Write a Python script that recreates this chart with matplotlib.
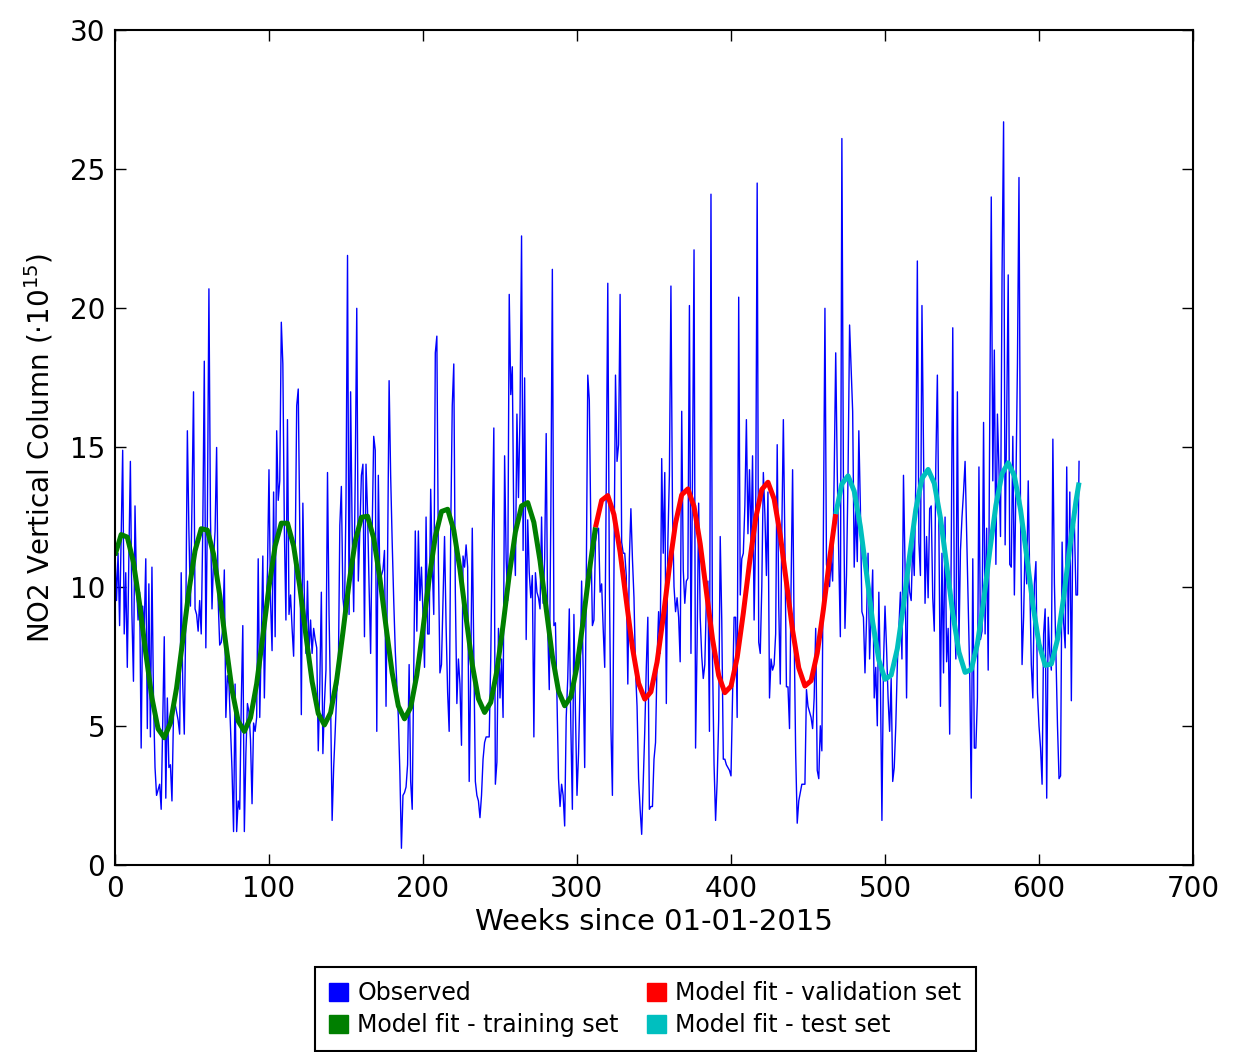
import numpy as np
import matplotlib
matplotlib.use("Agg")
import matplotlib.pyplot as plt
from matplotlib.patches import Patch

# weekly NO2 column values (week 0 .. 626)
observed = [
    11.3, 9.5, 11.2, 8.6, 11.8, 14.9, 8.3, 10.5, 7.1, 11.0,
    14.5, 9.0, 6.6, 12.9, 10.0, 8.8, 9.8, 4.2, 9.3, 8.5,
    11.0, 4.9, 10.1, 4.6, 10.7, 6.0, 3.5, 2.5, 2.7, 2.9,
    2.0, 5.0, 8.2, 2.4, 6.0, 3.5, 3.6, 2.3, 5.4, 5.8,
    5.5, 5.2, 4.7, 10.5, 6.5, 4.7, 9.0, 15.6, 12.0, 9.3,
    13.0, 17.0, 9.2, 9.0, 8.4, 9.5, 8.3, 12.0, 18.1, 7.8,
    12.5, 20.7, 12.5, 9.2, 11.0, 12.0, 15.0, 9.5, 7.9, 8.0,
    8.5, 10.6, 5.3, 6.8, 6.5, 5.0, 3.4, 1.2, 6.5, 1.2,
    2.3, 2.0, 5.8, 8.6, 1.2, 4.0, 5.8, 5.5, 4.5, 2.2,
    5.1, 4.8, 5.3, 11.0, 5.3, 8.0, 11.1, 6.0, 9.0, 10.5,
    14.2, 9.5, 7.7, 13.4, 8.2, 15.6, 13.1, 13.8, 19.5, 18.0,
    12.0, 8.8, 16.0, 9.0, 9.7, 8.5, 7.5, 11.0, 16.5, 17.1,
    12.0, 5.4, 13.0, 9.5, 7.6, 10.2, 7.6, 8.8, 7.6, 8.5,
    8.1, 7.8, 4.1, 6.5, 9.8, 4.0, 5.8, 7.0, 14.1, 9.0,
    5.9, 1.6, 3.5, 4.8, 6.2, 6.7, 12.2, 13.6, 9.6, 9.0,
    13.0, 21.9, 9.0, 17.0, 12.0, 9.1, 14.0, 20.0, 10.2, 12.0,
    14.0, 14.4, 8.2, 14.4, 12.7, 10.0, 7.6, 12.0, 15.4, 14.9,
    4.8, 14.0, 10.2, 10.4, 10.6, 11.3, 5.7, 11.0, 17.4, 14.0,
    11.6, 9.5, 7.7, 6.5, 5.3, 3.3, 0.6, 2.5, 2.6, 2.8,
    3.6, 7.2, 3.0, 2.0, 7.0, 12.0, 8.4, 12.0, 9.5, 10.7,
    9.0, 7.1, 12.5, 8.3, 8.3, 13.5, 10.8, 9.0, 18.4, 19.0,
    10.9, 6.9, 7.2, 9.5, 11.8, 8.6, 6.2, 4.8, 12.0, 16.5,
    18.0, 9.8, 5.8, 7.4, 6.5, 4.3, 11.1, 10.7, 11.5, 10.7,
    3.0, 7.0, 12.1, 7.6, 3.0, 2.5, 2.3, 1.7, 2.5, 3.8,
    4.4, 4.6, 4.6, 4.6, 7.4, 11.8, 15.7, 2.9, 3.7, 8.5,
    6.0, 7.4, 5.3, 14.7, 11.0, 9.5, 20.5, 16.9, 17.9, 12.0,
    10.4, 16.2, 13.2, 16.2, 22.6, 11.3, 17.5, 8.1, 12.4, 10.5,
    9.6, 10.4, 4.6, 10.5, 9.8, 9.6, 9.2, 12.5, 9.4, 11.0,
    15.5, 8.5, 6.3, 12.5, 21.4, 8.6, 8.7, 6.0, 3.1, 2.1,
    2.9, 2.5, 1.4, 5.3, 6.7, 9.2, 5.0, 2.0, 9.0, 5.5,
    2.5, 4.0, 6.5, 10.2, 7.0, 3.5, 10.0, 17.6, 16.7, 12.0,
    8.6, 8.8, 11.6, 12.0, 12.1, 9.8, 10.1, 8.5, 7.1, 13.7,
    20.9, 10.4, 5.0, 2.5, 10.5, 17.6, 14.5, 15.1, 20.5, 11.6,
    11.2, 11.2, 10.4, 6.5, 11.0, 12.8, 11.0, 9.6, 7.0, 5.7,
    3.1, 2.0, 1.1, 3.0, 4.8, 7.1, 8.9, 2.0, 2.1, 2.1,
    3.8, 4.4, 7.4, 9.1, 7.6, 14.6, 11.2, 14.1, 5.8, 11.6,
    14.0, 20.8, 12.8, 10.0, 9.1, 9.6, 8.9, 7.3, 16.3, 10.6,
    9.4, 10.2, 10.3, 20.1, 7.6, 14.0, 22.1, 4.2, 8.0, 13.0,
    8.9, 7.5, 6.7, 7.2, 9.5, 10.2, 4.8, 24.1, 7.4, 3.6,
    1.6, 3.0, 5.2, 11.8, 8.8, 3.8, 3.8, 3.6, 3.5, 3.4,
    3.2, 6.0, 8.9, 8.9, 5.3, 20.4, 9.7, 11.0, 11.2, 12.9,
    16.0, 11.9, 14.2, 11.6, 14.7, 8.8, 12.0, 24.5, 8.0, 7.6,
    10.0, 14.1, 12.6, 10.4, 13.4, 6.0, 7.4, 7.0, 7.2, 8.3,
    15.1, 9.3, 6.5, 12.0, 16.0, 11.5, 6.4, 6.4, 4.9, 10.0,
    14.2, 8.3, 4.0, 1.5, 2.3, 2.6, 2.9, 2.9, 2.9, 6.3,
    5.7, 5.5, 5.3, 4.9, 6.0, 8.5, 3.4, 3.1, 5.0, 4.1,
    12.0, 20.0, 10.8, 10.4, 10.0, 11.0, 10.2, 14.0, 18.4, 14.1,
    11.0, 8.2, 26.1, 13.8, 8.5, 10.4, 14.0, 19.4, 17.8, 16.3,
    10.7, 12.8, 10.9, 15.6, 12.9, 9.1, 8.9, 6.9, 8.8, 11.2,
    7.4, 9.0, 10.6, 6.0, 7.1, 5.0, 9.8, 6.7, 1.6, 7.2,
    9.3, 7.8, 6.0, 4.8, 6.7, 3.0, 3.5, 5.0, 7.2, 8.5,
    9.8, 7.4, 14.0, 10.8, 6.0, 10.7, 9.8, 9.5, 11.6, 10.4,
    13.8, 21.7, 11.6, 10.4, 20.1, 15.0, 9.4, 11.8, 9.6, 12.8,
    12.9, 9.6, 8.4, 14.4, 17.6, 12.0, 5.7, 11.2, 6.9, 12.5,
    7.3, 8.5, 4.7, 11.3, 19.3, 9.6, 7.4, 17.0, 7.9, 11.3,
    12.5, 13.4, 14.5, 12.0, 9.5, 6.9, 2.4, 11.0, 4.2, 4.2,
    6.0, 14.3, 8.1, 8.4, 15.9, 8.3, 12.1, 7.0, 15.9, 24.0,
    13.8, 18.5, 10.8, 16.2, 14.2, 11.8, 21.2, 26.7, 11.5, 16.0,
    21.2, 10.8, 10.7, 15.4, 9.7, 13.6, 18.0, 24.7, 12.6, 7.2,
    8.9, 11.6, 10.1, 13.8, 10.2, 7.2, 6.0, 10.1, 10.9, 6.2,
    5.0, 4.2, 2.9, 8.3, 9.2, 2.4, 8.9, 7.6, 7.0, 15.3,
    10.1, 7.6, 5.0, 3.1, 3.2, 11.6, 8.7, 7.8, 14.3, 8.3,
    13.4, 5.9, 12.5, 12.2, 9.7, 9.7, 14.5,
]

# model fit read every 4 weeks, plus the last week
fit_weeks = list(range(0, 625, 4)) + [626]
fit_values = [
    11.12, 11.87, 11.78, 10.87, 9.37, 7.61, 6.00, 4.89, 4.57, 5.10,
    6.36, 8.07, 9.85, 11.29, 12.08, 12.03, 11.17, 9.69, 7.93, 6.29,
    5.17, 4.80, 5.29, 6.51, 8.21, 9.99, 11.46, 12.28, 12.28, 11.46,
    10.00, 8.24, 6.59, 5.44, 5.03, 5.47, 6.66, 8.35, 10.14, 11.63,
    12.49, 12.53, 11.74, 10.30, 8.56, 6.90, 5.71, 5.25, 5.66, 6.82,
    8.49, 10.28, 11.80, 12.70, 12.78, 12.03, 10.62, 8.88, 7.20, 5.97,
    5.48, 5.84, 6.98, 8.62, 10.42, 11.96, 12.90, 13.02, 12.31, 10.93,
    9.20, 7.50, 6.25, 5.72, 6.04, 7.13, 8.76, 10.56, 12.13, 13.10,
    13.27, 12.59, 11.24, 9.51, 7.81, 6.53, 5.96, 6.22, 7.29, 8.90,
    10.71, 12.28, 13.30, 13.51, 12.88, 11.54, 9.83, 8.12, 6.81, 6.19,
    6.42, 7.45, 9.05, 10.84, 12.45, 13.49, 13.75, 13.15, 11.85, 10.15,
    8.43, 7.08, 6.43, 6.62, 7.61, 9.18, 10.98, 12.61, 13.69, 13.98,
    13.43, 12.16, 10.47, 8.73, 7.36, 6.67, 6.82, 7.77, 9.32, 11.12,
    12.77, 13.88, 14.21, 13.71, 12.47, 10.79, 9.04, 7.65, 6.92, 7.02,
    7.94, 9.47, 11.27, 12.92, 14.06, 14.45, 13.98, 12.77, 11.10, 9.36,
    7.94, 7.17, 7.22, 8.10, 9.61, 11.41, 13.07, 13.74,
]
train_end = 312
valid_end = 468

labels = ["Observed", "Model fit - training set",
          "Model fit - validation set", "Model fit - test set"]
colors = ["#0000ff", "#007f00", "#ff0000", "#00bfbf"]

plt.rcParams["font.family"] = ["DejaVu Sans"]
plt.rcParams["mathtext.default"] = "regular"

fig = plt.figure(figsize=(12.35, 10.52), dpi=100)
ax = fig.add_axes([0.0931, 0.1778, 0.8729, 0.7937])

weeks = np.arange(len(observed))
ax.plot(weeks, observed, color=colors[0], lw=1.0)

fw = np.array(fit_weeks)
fv = np.array(fit_values)
train = fw <= train_end
valid = (fw >= train_end) & (fw <= valid_end)
test = fw >= valid_end
for mask, c in [(train, colors[1]), (valid, colors[2]), (test, colors[3])]:
    ax.plot(fw[mask], fv[mask], color=c, lw=3.6,
            solid_capstyle="butt", solid_joinstyle="round")

ax.set_xlim(0, 700)
ax.set_ylim(0, 30)
ax.set_xticks(np.arange(0, 701, 100))
ax.set_yticks(np.arange(0, 31, 5))
ax.tick_params(direction="in", length=8, width=1, top=True, right=True,
               labelsize=20, pad=7)
for s in ax.spines.values():
    s.set_linewidth(1.5)

ax.set_xlabel("Weeks since 01-01-2015", fontsize=21, labelpad=4)
ax.set_ylabel(r"NO2 Vertical Column ($\cdot10^{15}$)", fontsize=20, labelpad=10)

handles = [Patch(facecolor=c, edgecolor=c) for c in colors]
leg = fig.legend(handles, labels, ncol=2, loc="upper center",
                 bbox_to_anchor=(0.5225, 0.0808), borderaxespad=0,
                 fontsize=17, fancybox=False, edgecolor="black",
                 framealpha=1, handlelength=0.8, handleheight=0.8,
                 handletextpad=0.4, columnspacing=1.2, labelspacing=0.33,
                 borderpad=0.6)
leg.get_frame().set_linewidth(1.5)

fig.savefig("out.png", dpi=100)
